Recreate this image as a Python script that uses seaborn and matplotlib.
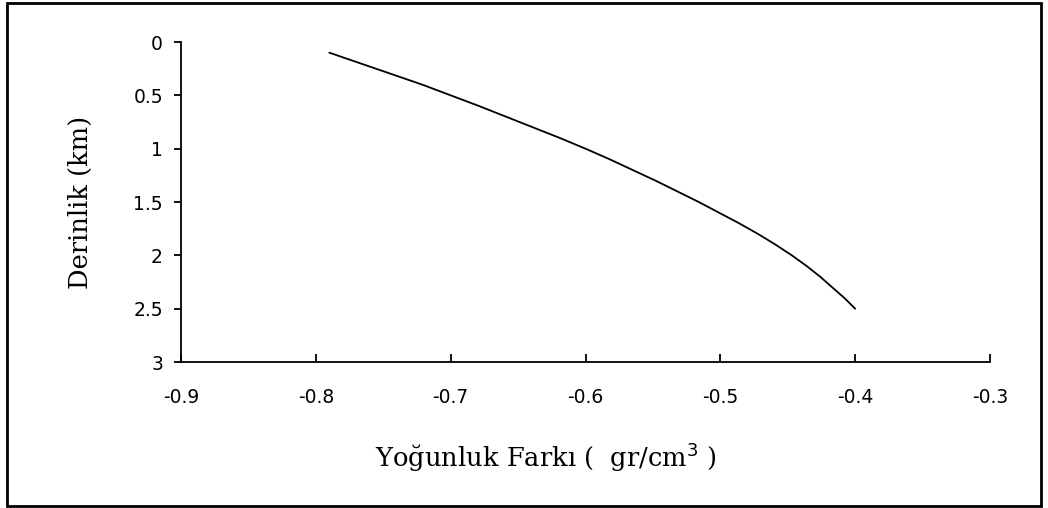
import matplotlib
matplotlib.use("Agg")
import matplotlib.pyplot as plt
import seaborn as sns
import pandas as pd
from matplotlib.patches import Rectangle

# Density contrast (gr/cm3) against depth (km)
depth_km = [0.1, 0.2, 0.3, 0.4, 0.5, 0.6, 0.7, 0.8, 0.9, 1.0,
            1.1, 1.2, 1.3, 1.4, 1.5, 1.6, 1.7, 1.8, 1.9, 2.0,
            2.1, 2.2, 2.3, 2.4, 2.5]
density_diff = [-0.790, -0.767, -0.744, -0.721, -0.700, -0.679, -0.659, -0.639, -0.619, -0.600,
                -0.582, -0.565, -0.548, -0.532, -0.516, -0.501, -0.486, -0.472, -0.459, -0.447,
                -0.436, -0.426, -0.417, -0.408, -0.400]

x_ticks = [-0.9, -0.8, -0.7, -0.6, -0.5, -0.4, -0.3]
x_tick_labels = ["-0.9", "-0.8", "-0.7", "-0.6", "-0.5", "-0.4", "-0.3"]
y_ticks = [0, 0.5, 1, 1.5, 2, 2.5, 3]
y_tick_labels = ["0", "0.5", "1", "1.5", "2", "2.5", "3"]

sns.set_style("white")
plt.rcParams["font.family"] = ["DejaVu Sans"]
plt.rcParams["axes.unicode_minus"] = False
plt.rcParams["mathtext.fontset"] = "custom"
plt.rcParams["mathtext.rm"] = "DejaVu Sans"
plt.rcParams["mathtext.it"] = "DejaVu Sans"

df = pd.DataFrame({"density": density_diff, "depth": depth_km})

fig = plt.figure(figsize=(10.48, 5.08), dpi=100)
ax = fig.add_axes([181 / 1048, 1 - 362 / 508, (990 - 181) / 1048, (362 - 42) / 508])

sns.lineplot(data=df, x="density", y="depth", sort=False, color="black",
             linewidth=1.3, ax=ax)

ax.set_xlim(-0.9, -0.3)
ax.set_ylim(3, 0)
ax.set_xticks(x_ticks)
ax.set_xticklabels(x_tick_labels)
ax.set_yticks(y_ticks)
ax.set_yticklabels(y_tick_labels)

for side in ("top", "right"):
    ax.spines[side].set_visible(False)
for side in ("left", "bottom"):
    ax.spines[side].set_color("black")
    ax.spines[side].set_linewidth(1.3)

ax.tick_params(axis="x", direction="in", length=6, width=1.3, color="black",
               labelsize=13.5, pad=19, labelcolor="black")
ax.tick_params(axis="y", direction="out", length=5, width=1.3, color="black",
               labelsize=13.5, pad=8, labelcolor="black")
ax.xaxis.set_ticks_position("bottom")
ax.yaxis.set_ticks_position("left")

ax.set_xlabel(r"Yoğunluk Farkı (  gr/cm$^{\mathrm{3}}$ )",
              fontfamily="DejaVu Serif", fontsize=18.5, color="black")
ax.set_ylabel("Derinlik (km)", fontfamily="DejaVu Serif", fontsize=18.5,
              color="black")
ax.xaxis.set_label_coords(0.451, -0.245)
ax.yaxis.set_label_coords(-0.109, 0.5)

# Outer frame around the whole chart area
fig.patches.append(Rectangle((7 / 1048, 2 / 508), (1041 - 7) / 1048, (505 - 2) / 508,
                             transform=fig.transFigure, fill=False,
                             edgecolor="black", linewidth=2))

fig.savefig("out.png", dpi=100, facecolor="white")
